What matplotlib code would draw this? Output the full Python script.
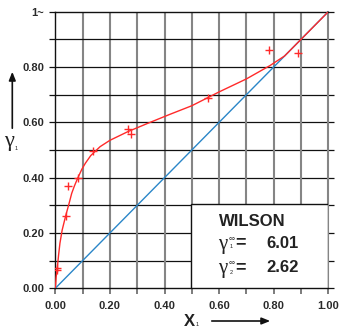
import numpy as np
import matplotlib.pyplot as plt

plt.rcParams['font.family'] = ['Liberation Sans', 'DejaVu Sans']

# experimental points
x_exp = [0.005, 0.005, 0.038, 0.048, 0.082, 0.139, 0.265, 0.276, 0.56, 0.783, 0.888]
y_exp = [0.066, 0.075, 0.261, 0.371, 0.398, 0.497, 0.575, 0.558, 0.689, 0.863, 0.851]

# Wilson curve
x_fit = [0, 0.003, 0.007, 0.012, 0.017, 0.025, 0.038, 0.05, 0.06, 0.07, 0.082,
         0.097, 0.11, 0.13, 0.164, 0.2, 0.265, 0.34, 0.42, 0.5, 0.6, 0.7,
         0.786, 0.84, 0.9, 1.0]
y_fit = [0, 0.04, 0.07, 0.12, 0.163, 0.21, 0.262, 0.305, 0.343, 0.37, 0.398,
         0.43, 0.452, 0.48, 0.512, 0.535, 0.566, 0.597, 0.629, 0.66, 0.71, 0.757,
         0.805, 0.84, 0.9, 1.0]

diag = [0, 1]

xticks = [round(0.1 * i, 1) for i in range(11)]
xlabels = ['0.00', '', '0.20', '', '0.40', '', '0.60', '', '0.80', '', '1.00']
ylabels = ['0.00', '', '0.20', '', '0.40', '', '0.60', '', '0.80', '', '1~']

W, H = 340, 327
fig = plt.figure(figsize=(W / 100, H / 100), dpi=100)
ax = fig.add_axes([55.3 / W, 1 - 288.3 / H, 273 / W, 276.6 / H])

for v in xticks[1:-1]:
    ax.axvline(v, color='#858585', lw=1.5, zorder=1)
    ax.axhline(v, color='#111111', lw=0.9, zorder=1)

ax.plot(diag, diag, color='#2a86c8', lw=1.0, zorder=3)
ax.plot(x_fit, y_fit, color='#ff2a2a', lw=1.0, zorder=4)
ax.plot(x_exp, y_exp, '+', color='#ff2a2a', ms=6, mew=1.0, zorder=5)

ax.set_xlim(0, 1)
ax.set_ylim(0, 1)
ax.set_xticks(xticks)
ax.set_yticks(xticks)
ax.set_xticklabels(xlabels, fontsize=8, fontweight='bold', color='#2a2a2a')
ax.set_yticklabels(ylabels, fontsize=8, fontweight='bold', color='#2a2a2a')
ax.tick_params(axis='x', direction='out', length=4, width=1.2, color='#666666', pad=5)
ax.tick_params(axis='y', direction='out', length=4, width=0.9, color='#111111',
               pad=4, right=True)
for s in ['left', 'bottom', 'top']:
    ax.spines[s].set_color('#111111')
    ax.spines[s].set_linewidth(1.0)
ax.spines['right'].set_color('#858585')
ax.spines['right'].set_linewidth(1.5)

# legend box
ax.add_patch(plt.Rectangle((0.498, 0), 0.502, 0.305, facecolor='white',
                           edgecolor='#111111', lw=1.0, zorder=6))


def px(x, y):
    return x / W, 1 - y / H


ink = '#222222'
serif = ['Liberation Serif', 'DejaVu Serif']
fig.text(*px(219, 222), 'WILSON', fontsize=12, fontweight='bold',
         va='center', ha='left', color=ink)
for yy, sub, val in [(243, '1', '6.01'), (268, '2', '2.62')]:
    fig.text(*px(218, yy + 1), 'γ', fontsize=15, va='center', ha='left',
             color=ink, family=serif)
    fig.text(*px(229, yy - 4), '∞', fontsize=6, va='center', ha='left', color=ink)
    fig.text(*px(230, yy + 4), sub, fontsize=4, va='center', ha='left', color=ink)
    fig.text(*px(235, yy), '=', fontsize=13, fontweight='bold', va='center',
             ha='left', color=ink)
    fig.text(*px(266, yy), val, fontsize=12, fontweight='bold', va='center',
             ha='left', color=ink)

# axis labels with arrows
fig.text(*px(4, 141), 'γ', fontsize=16, va='center', ha='left', color=ink,
         family=serif)
fig.text(*px(14.5, 149), '1', fontsize=4, va='center', ha='left', color=ink)
fig.add_artist(plt.matplotlib.patches.FancyArrowPatch(
    px(12.3, 131), px(12.3, 69), transform=fig.transFigure,
    arrowstyle='-|>,head_length=5,head_width=2', lw=1.2, color='#111111'))

fig.text(*px(184, 321), 'X', fontsize=12, fontweight='bold', va='center',
         ha='left', color=ink)
fig.text(*px(196, 325), '1', fontsize=4, va='center', ha='left', color=ink)
fig.add_artist(plt.matplotlib.patches.FancyArrowPatch(
    px(209, 321), px(273, 321), transform=fig.transFigure,
    arrowstyle='-|>,head_length=5,head_width=2', lw=1.2, color='#111111'))

fig.savefig('out.png', dpi=100)
